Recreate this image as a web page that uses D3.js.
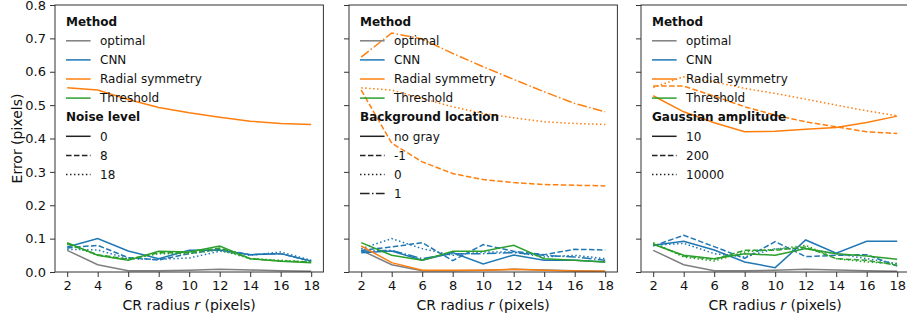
<!DOCTYPE html>
<meta charset="utf-8">
<style>
body { margin: 0; background: #fff; }
text { font-family: "DejaVu Sans", sans-serif; fill: #111; }
</style>
<svg width="907" height="318"></svg>
<script src="https://cdn.jsdelivr.net/npm/d3@7/dist/d3.min.js"></script>
<script>

var radius = [2, 4, 6, 8, 10, 12, 14, 16, 18];
var yTicks = [0, 0.1, 0.2, 0.3, 0.4, 0.5, 0.6, 0.7, 0.8];
var methods = ["optimal", "CNN", "Radial symmetry", "Threshold"];
var methodColors = ["#7f7f7f", "#1f77b4", "#ff7f0e", "#2ca02c"];

var optimalErr = [0.065, 0.022, 0.004, 0.004, 0.005, 0.008, 0.006, 0.004, 0.002];

// panel 1 : noise level (one row per level)
var noiseLevels = ["0", "8", "18"];
var noiseCNN = [
  [0.075, 0.100, 0.063, 0.040, 0.065, 0.066, 0.052, 0.055, 0.033],
  [0.072, 0.080, 0.043, 0.036, 0.055, 0.068, 0.052, 0.055, 0.032],
  [0.068, 0.066, 0.040, 0.038, 0.042, 0.062, 0.050, 0.060, 0.035]
];
var noiseRadial = [
  [0.552, 0.545, 0.517, 0.493, 0.477, 0.464, 0.452, 0.445, 0.442]
];
var noiseThreshold = [
  [0.088, 0.050, 0.035, 0.062, 0.060, 0.078, 0.040, 0.032, 0.028],
  [0.085, 0.052, 0.038, 0.058, 0.058, 0.072, 0.040, 0.033, 0.030],
  [0.083, 0.050, 0.037, 0.055, 0.055, 0.066, 0.040, 0.035, 0.030]
];

// panel 2 : background location
var bgLevels = ["no gray", "-1", "0", "1"];
var bgCNN = [
  [0.058, 0.063, 0.035, 0.058, 0.024, 0.051, 0.035, 0.035, 0.030],
  [0.065, 0.075, 0.088, 0.034, 0.082, 0.062, 0.052, 0.068, 0.066],
  [0.070, 0.100, 0.070, 0.050, 0.060, 0.060, 0.045, 0.050, 0.040],
  [0.062, 0.065, 0.040, 0.055, 0.055, 0.058, 0.050, 0.045, 0.035]
];
var bgRadial = [
  [0.078, 0.028, 0.005, 0.005, 0.005, 0.008, 0.005, 0.003, 0.002],
  [0.545, 0.386, 0.330, 0.295, 0.277, 0.268, 0.262, 0.260, 0.258],
  [0.552, 0.545, 0.520, 0.495, 0.475, 0.462, 0.450, 0.445, 0.442],
  [0.644, 0.716, 0.698, 0.655, 0.615, 0.577, 0.540, 0.505, 0.480]
];
var bgThreshold = [
  [0.088, 0.050, 0.035, 0.062, 0.062, 0.080, 0.040, 0.035, 0.030]
];

// panel 3 : gaussian amplitude
var ampLevels = ["10", "200", "10000"];
var ampCNN = [
  [0.080, 0.092, 0.066, 0.030, 0.013, 0.096, 0.056, 0.092, 0.092],
  [0.078, 0.110, 0.076, 0.041, 0.091, 0.046, 0.050, 0.052, 0.018],
  [0.080, 0.086, 0.055, 0.045, 0.070, 0.070, 0.055, 0.040, 0.025]
];
var ampRadial = [
  [0.528, 0.480, 0.447, 0.420, 0.422, 0.428, 0.433, 0.448, 0.467],
  [0.557, 0.557, 0.527, 0.495, 0.470, 0.450, 0.435, 0.420, 0.415],
  [0.553, 0.585, 0.570, 0.550, 0.535, 0.518, 0.500, 0.483, 0.468]
];
var ampThreshold = [
  [0.083, 0.050, 0.040, 0.055, 0.050, 0.070, 0.055, 0.048, 0.038],
  [0.085, 0.048, 0.038, 0.065, 0.065, 0.075, 0.040, 0.035, 0.020],
  [0.088, 0.045, 0.033, 0.060, 0.068, 0.080, 0.040, 0.030, 0.025]
];

var dashes = ["", "5.55,2.4", "1.5,2.475", "9.6,2.4,1.5,2.4"];

var panels = [
  {left: 55, title: "Noise level", levels: noiseLevels,
   data: [[optimalErr], noiseCNN, noiseRadial, noiseThreshold]},
  {left: 349, title: "Background location", levels: bgLevels,
   data: [[optimalErr], bgCNN, bgRadial, bgThreshold]},
  {left: 641, title: "Gaussian amplitude", levels: ampLevels,
   data: [[optimalErr], ampCNN, ampRadial, ampThreshold]}
];

var svg = d3.select("svg");
var plotTop = 5, plotBottom = 272, pw = 268.4;
var ink = "#111";

var y = d3.scaleLinear().domain([0, 0.8]).range([plotBottom, plotTop]);

panels.forEach(function(p, pi) {
  var x = d3.scaleLinear().domain([1.2, 18.8]).range([p.left, p.left + pw]);
  var g = svg.append("g");

  g.append("clipPath").attr("id", "clip" + pi)
    .append("rect").attr("x", p.left).attr("y", plotTop)
    .attr("width", pw).attr("height", plotBottom - plotTop);

  var line = d3.line()
    .x(function(d, i) { return x(radius[i]); })
    .y(function(d) { return y(d); });

  var lines = g.append("g").attr("clip-path", "url(#clip" + pi + ")");
  p.data.forEach(function(rows, mi) {
    rows.forEach(function(vals, li) {
      lines.append("path")
        .attr("d", line(vals))
        .attr("fill", "none")
        .attr("stroke", methodColors[mi])
        .attr("stroke-width", 1.5)
        .attr("stroke-dasharray", dashes[li]);
    });
  });

  // axes
  var xa = g.append("g").attr("transform", "translate(0," + plotBottom + ")")
    .call(d3.axisBottom(x).tickValues(radius).tickSize(5).tickPadding(4));
  var ya = g.append("g").attr("transform", "translate(" + p.left + ",0)")
    .call(d3.axisLeft(y).tickValues(yTicks).tickSize(5).tickPadding(4)
      .tickFormat(pi === 0 ? d3.format(".1f") : function() { return ""; }));
  [xa, ya].forEach(function(a) {
    a.select(".domain").remove();
    a.selectAll("line").attr("stroke", "#333").attr("stroke-width", 1);
    a.selectAll("text").attr("font-size", 13).attr("fill", ink)
      .style("font-family", "DejaVu Sans");
  });

  g.append("rect")
    .attr("x", p.left).attr("y", plotTop).attr("width", pw).attr("height", plotBottom - plotTop)
    .attr("fill", "none").attr("stroke", "#333").attr("stroke-width", 1);

  // x label
  var xl = g.append("text")
    .attr("x", p.left + pw / 2).attr("y", 310)
    .attr("text-anchor", "middle").attr("font-size", 14);
  xl.append("tspan").text("CR radius ");
  xl.append("tspan").attr("font-style", "italic").text("r");
  xl.append("tspan").text(" (pixels)");

  // legend
  var lg = g.append("g");
  var lx = p.left + 11, row = 19.1, ly = 21.7;
  var entries = [{t: "Method", title: true}];
  methods.forEach(function(m, i) { entries.push({t: m, c: methodColors[i], d: ""}); });
  entries.push({t: p.title, title: true});
  p.levels.forEach(function(l, i) { entries.push({t: l, c: "#222", d: dashes[i]}); });

  entries.forEach(function(e, i) {
    var cy = ly + i * row;
    if (e.title) {
      lg.append("text").attr("x", lx).attr("y", cy).attr("dy", "0.35em")
        .attr("font-size", 12).attr("font-weight", "bold").text(e.t);
    } else {
      lg.append("line")
        .attr("x1", lx).attr("x2", lx + 24.6).attr("y1", cy).attr("y2", cy)
        .attr("stroke", e.c).attr("stroke-width", 1.5).attr("stroke-dasharray", e.d);
      lg.append("text").attr("x", lx + 34).attr("y", cy).attr("dy", "0.35em")
        .attr("font-size", 12).text(e.t);
    }
  });
});

svg.append("text")
  .attr("transform", "translate(17," + ((plotTop + plotBottom) / 2) + ") rotate(-90)")
  .attr("dy", "0.35em")
  .attr("text-anchor", "middle").attr("font-size", 14)
  .text("Error (pixels)");

</script>
